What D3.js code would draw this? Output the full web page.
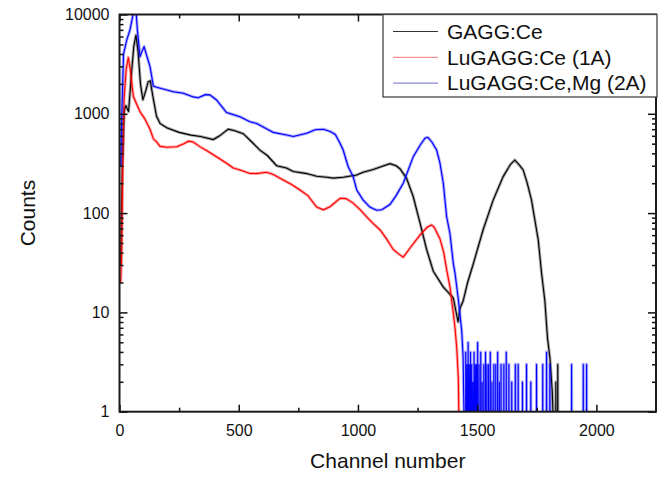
<!DOCTYPE html>
<html>
<head>
<meta charset="utf-8">
<script src="https://cdn.jsdelivr.net/npm/d3@7"></script>
<style>
  body { margin: 0; background: #fff; }
  text { font-family: "Liberation Sans", Arial, sans-serif; fill: #111; }
</style>
</head>
<body>
<svg id="chart" width="671" height="477"></svg>
<script>
// Spectra: [channel, counts]
var gagg = [[5,30],[12,300],[20,1100],[27,1200],[38,1050],[50,2500],[60,4800],[69,6200],[78,4200],[88,2000],
  [98,1380],[110,1700],[120,2100],[129,2150],[140,1500],[155,950],[170,800],[200,720],[250,650],[300,610],
  [340,590],[393,550],[420,600],[456,700],[480,680],[519,630],[555,520],[589,430],[620,380],[659,300],
  [700,285],[729,262],[785,250],[827,235],[870,230],[896,225],[938,230],[995,242],[1022,258],[1064,275],
  [1100,295],[1134,315],[1160,300],[1176,280],[1204,224],[1232,146],[1260,80],[1288,43],[1316,26],[1358,18],
  [1400,14],[1420,8],[1428,11],[1441,13],[1460,20],[1484,31],[1525,68],[1567,135],[1609,233],[1640,310],
  [1658,343],[1679,300],[1693,272],[1710,200],[1728,135],[1742,85],[1756,54],[1770,25],[1784,13],[1795,5.5],
  [1805,3.5],[1815,1.6],[1825,0]];

var lugaggCe = [[5,20],[9,40],[14,400],[19,1380],[28,2800],[37,3700],[45,2800],[58,1500],[72,1250],[86,1050],
  [105,900],[128,700],[142,560],[156,520],[170,470],[200,460],[240,465],[270,500],[289,530],[309,520],
  [337,467],[370,420],[407,370],[449,318],[477,285],[505,272],[547,251],[575,250],[617,258],[645,245],
  [687,215],[720,195],[757,171],[790,150],[827,115],[855,108],[883,116],[925,141],[950,140],[980,126],
  [1010,108],[1036,92],[1060,80],[1092,68],[1120,55],[1148,43],[1176,38],[1190,36],[1220,45],[1260,60],
  [1290,72],[1309,76],[1320,72],[1344,55],[1360,40],[1372,27],[1386,18],[1400,9.8],[1407,7],[1414,4.5],
  [1421,2.2],[1426,0]];

var lugaggMg = [[5,300],[10,1090],[17,4000],[30,5500],[44,7000],[55,9500],[62,12000],[68,12000],[75,7000],[86,3760],
  [95,4300],[103,4740],[115,3800],[128,2980],[142,1900],[156,1850],[198,1740],[226,1670],[268,1610],[309,1480],
  [330,1450],[360,1560],[379,1550],[407,1377],[449,1030],[505,935],[547,832],[575,800],[645,650],[701,612],
  [729,590],[785,636],[820,690],[855,700],[883,665],[905,620],[925,504],[938,432],[959,293],[980,233],
  [995,171],[1022,135],[1050,115],[1078,107],[1100,108],[1134,122],[1160,150],[1190,200],[1232,370],[1260,480],
  [1281,567],[1293,580],[1310,520],[1330,432],[1344,318],[1358,200],[1372,92],[1386,62],[1400,31],[1407,25],
  [1421,13.5],[1435,6.6],[1441,3.6],[1448,0]];

// single-count spikes in the tails: [channel, counts]
var lugaggMgTail = [[1452,4],[1457,3],[1462,5],[1467,3],[1472,4],[1477,3],[1482,2],[1487,4],[1492,3],[1497,3],
  [1502,5],[1508,3],[1515,4],[1521,2],[1528,3],[1535,4],[1541,3],[1548,3],[1555,4],[1562,2],[1570,3],[1578,3],
  [1586,4],[1593,2],[1600,3],[1612,3],[1622,4],[1633,3],[1645,2],[1660,3],[1672,3],[1690,2],[1707,3],[1725,2],
  [1749,3],[1775,3],[1791,4],[1805,3],[1896,3],[1945,3],[1959,3]];
var gaggTail = [[1830,2],[1838,3]];

var seriesNames = ["GAGG:Ce", "LuGAGG:Ce (1A)", "LuGAGG:Ce,Mg (2A)"];
var seriesColors = ["#000000", "#ff0000", "#0000ff"];
var legendColors = ["#333333", "#f07878", "#6a6ad0"];

var xMajor = [0, 500, 1000, 1500, 2000];
var xMinor = [250, 750, 1250, 1750];
var yMajor = [1, 10, 100, 1000, 10000];
var yMinor = [];
[1, 10, 100, 1000].forEach(function(d) {
  for (var m = 2; m <= 9; m++) yMinor.push(d * m);
});

// Set margins
var margin = {top: 14.5, right: 15, bottom: 65.3, left: 119.5},
    width = 671 - margin.left - margin.right,
    height = 477 - margin.top - margin.bottom;

var svg = d3.select("#chart")
  .append("g")
    .attr("transform", "translate(" + margin.left + "," + margin.top + ")");

var x = d3.scaleLinear().domain([0, 2250]).range([0, width]);
var y = d3.scaleLog().domain([1, 10000]).range([height, 0]);

svg.append("clipPath").attr("id", "clip")
  .append("rect").attr("width", width).attr("height", height);

// spikes go down to zero between counts
function withSpikes(main, tail) {
  var pts = main.slice();
  tail.forEach(function(s) {
    pts.push([s[0] - 0.6, 0], [s[0], s[1]], [s[0] + 0.6, 0]);
  });
  return pts;
}

var line = d3.line()
  .x(function(d) { return x(d[0]); })
  .y(function(d) { return y(Math.max(d[1], 0.3)); });

var allSeries = [withSpikes(gagg, gaggTail), lugaggCe, withSpikes(lugaggMg, lugaggMgTail)];

var plot = svg.append("g").attr("clip-path", "url(#clip)");
allSeries.forEach(function(data, i) {
  // fuzzy band for the counting noise
  plot.append("path")
    .datum(data)
    .attr("fill", "none")
    .attr("stroke", seriesColors[i])
    .attr("stroke-opacity", 0.35)
    .attr("stroke-width", 3)
    .attr("stroke-linejoin", "round")
    .attr("d", line);
  plot.append("path")
    .datum(data)
    .attr("fill", "none")
    .attr("stroke", seriesColors[i])
    .attr("stroke-width", 1.1)
    .attr("d", line);
});

// Axes, ticks pointing inward
function styleAxis(g) {
  g.select(".domain").remove();
  g.selectAll(".tick line").attr("stroke", "#111").attr("stroke-width", 1.5);
  g.selectAll(".tick text").attr("font-size", 16).attr("fill", "#111")
    .attr("font-family", "Liberation Sans, Arial, sans-serif");
}

svg.append("g")
  .attr("transform", "translate(0," + height + ")")
  .call(d3.axisBottom(x).tickValues(xMajor).tickSize(-7).tickPadding(13).tickFormat(d3.format("d")))
  .call(styleAxis);
svg.append("g")
  .attr("transform", "translate(0," + height + ")")
  .call(d3.axisBottom(x).tickValues(xMinor).tickSize(-4).tickFormat(""))
  .call(styleAxis);
svg.append("g")
  .call(d3.axisTop(x).tickValues(xMajor).tickSize(-7).tickFormat(""))
  .call(styleAxis);
svg.append("g")
  .call(d3.axisTop(x).tickValues(xMinor).tickSize(-4).tickFormat(""))
  .call(styleAxis);

svg.append("g")
  .call(d3.axisLeft(y).tickValues(yMajor).tickSize(-8).tickPadding(10).tickFormat(d3.format("d")))
  .call(styleAxis);
svg.append("g")
  .call(d3.axisLeft(y).tickValues(yMinor).tickSize(-4).tickFormat(""))
  .call(styleAxis);
svg.append("g")
  .attr("transform", "translate(" + width + ",0)")
  .call(d3.axisRight(y).tickValues(yMajor).tickSize(-8).tickFormat(""))
  .call(styleAxis);
svg.append("g")
  .attr("transform", "translate(" + width + ",0)")
  .call(d3.axisRight(y).tickValues(yMinor).tickSize(-4).tickFormat(""))
  .call(styleAxis);

// frame
svg.append("rect")
  .attr("width", width).attr("height", height)
  .attr("fill", "none").attr("stroke", "#1a1a1a").attr("stroke-width", 2);

// axis titles
svg.append("text")
  .attr("x", width / 2).attr("y", height + 56)
  .attr("text-anchor", "middle")
  .attr("font-size", 21)
  .text("Channel number");

svg.append("text")
  .attr("transform", "translate(" + (-85) + "," + (height / 2) + ") rotate(-90)")
  .attr("text-anchor", "middle")
  .attr("font-size", 21)
  .text("Counts");

// Legend
var legend = svg.append("g").attr("transform", "translate(" + (383 - margin.left) + ",0)");
legend.append("rect")
  .attr("width", 657 - 383).attr("height", 97 - margin.top)
  .attr("fill", "#fff").attr("stroke", "#444").attr("stroke-width", 1.3);

seriesNames.forEach(function(name, i) {
  var cy = 31.5 - margin.top + i * 25.8;
  legend.append("line")
    .attr("x1", 393 - 383).attr("x2", 438 - 383)
    .attr("y1", cy).attr("y2", cy)
    .attr("stroke", legendColors[i]).attr("stroke-width", 1);
  legend.append("text")
    .attr("x", 447 - 383).attr("y", cy)
    .attr("dy", "0.35em")
    .attr("font-size", 21)
    .text(name);
});
</script>
</body>
</html>
